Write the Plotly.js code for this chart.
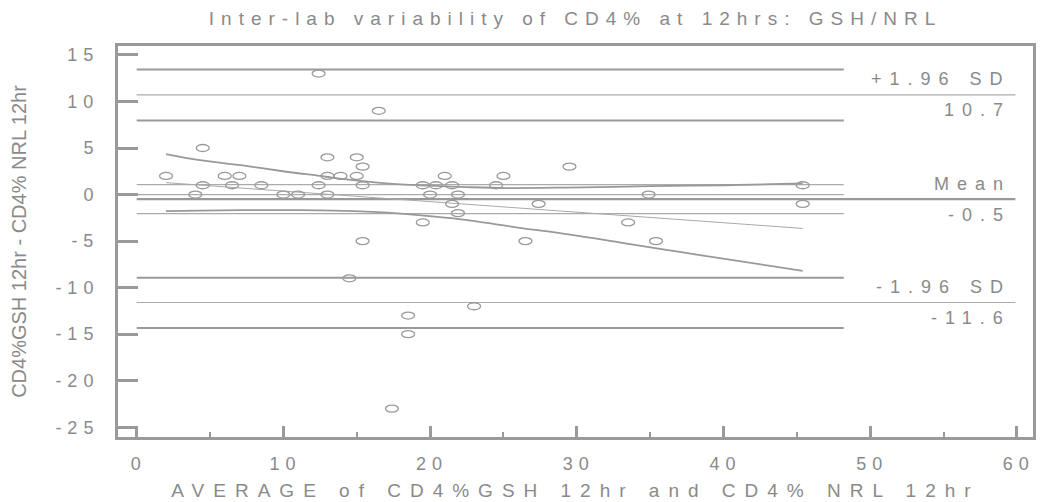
<!DOCTYPE html>
<html><head><meta charset="utf-8">
<script src="https://cdn.plot.ly/plotly-3.0.1.min.js"></script>
<style>
html,body{margin:0;padding:0;background:#fff;}
text{letter-spacing:6px;}
text.gtitle{letter-spacing:7px;}
text.xtitle{letter-spacing:9px;}
text.ytitle{letter-spacing:0px;}
text.annotation-text{letter-spacing:8px;}
</style></head><body>
<div id="chart" style="width:1040px;height:502px;"></div>
<script>
// ---- data ----
const avgX = [2, 4, 4.5, 4.5, 6, 6.5, 7, 8.5, 10, 11, 12.4, 12.4, 13, 13, 13, 13.9, 15, 15, 14.5, 15.4, 15.4, 15.4, 16.5, 17.4, 18.5, 18.5, 19.5, 19.5, 20, 20.4, 21, 21.5, 21.5, 21.9, 21.9, 23, 24.5, 25, 27.4, 26.5, 29.5, 33.5, 34.9, 35.4, 45.4, 45.4];
const diffY = [2, 0, 5, 1, 2, 1, 2, 1, 0, 0, 13, 1, 4, 2, 0, 2, 4, 2, -9, 3, 1, -5, 9, -23, -13, -15, 1, -3, 0, 1, 2, 1, -1, 0, -2, -12, 1, 2, -1, -5, 3, -3, 0, -5, 1, -1];

const regX = [2, 45.4];
const regY = [1.28, -3.64];
const upperBandX = [2, 4.3, 7.1, 10.2, 12.5, 13.4, 17.0, 20, 22.5, 25.2, 29.3, 35.0, 40, 45.4];
const upperBandY = [4.35, 3.7, 3.15, 2.45, 2.0, 1.8, 1.2, 0.95, 0.8, 0.7, 0.75, 0.9, 1.0, 1.2];
const lowerBandX = [2, 4.3, 7.1, 11.0, 13.4, 16.1, 18.0, 21.6, 26.1, 29.3, 32.9, 36.1, 38.4, 45.4];
const lowerBandY = [-1.79, -1.72, -1.68, -1.68, -1.72, -1.86, -2.04, -2.57, -3.57, -4.25, -5.14, -5.95, -6.5, -8.2];

const limitCILevels = [13.43, 7.96, -8.93, -14.33];
const meanCILevels = [1.07, 0, -2.04];
const limitLevels = [10.7, -11.6];
const meanLevel = [-0.5];
const shortLineSpan = [0, 48.2];
const longLineSpan = [0, 59.9];

const labelLevels = [10.7, 10.7, -0.5, -0.5, -11.6, -11.6];
const labelTexts = ['+1.96 SD', '10.7', 'Mean', '-0.5', '-1.96 SD', '-11.6'];
const labelSide = [1, -1, 1, -1, 1, -1];

const xTickVals = [0, 10, 20, 30, 40, 50, 60];
const xTickText = ['0', '10', '20', '30', '40', '50', '60'];
const xMinorVals = [5, 15, 25, 35, 45, 55];
const yTickVals = [-25, -20, -15, -10, -5, 0, 5, 10, 15];
const yTickText = ['-25', '-20', '-15', '-10', '-5', '0', '5', '10', '15'];

const titleText = 'Inter-lab variability of CD4% at 12hrs: GSH/NRL';
const xTitle = 'AVERAGE of CD4%GSH 12hr and CD4% NRL 12hr';
const yTitle = 'CD4%GSH 12hr - CD4% NRL 12hr';

// ---- build ----
const FONT = 'Liberation Sans, Arial, sans-serif';
const TXT = '#8a8a8a';
function hLines(levels, span) {
  const x = [], y = [];
  levels.forEach(v => { x.push(span[0], span[1], null); y.push(v, v, null); });
  return {x, y};
}
const g1 = hLines(limitCILevels, shortLineSpan);
const g2 = hLines(meanCILevels, shortLineSpan);
const g3 = hLines(limitLevels, longLineSpan);
const g4 = hLines(meanLevel, longLineSpan);

const traces = [
  {x: g1.x, y: g1.y, mode: 'lines', line: {color: '#9a9a9a', width: 2}, hoverinfo: 'skip', name: 'CI of limits'},
  {x: g2.x, y: g2.y, mode: 'lines', line: {color: '#ababab', width: 1.2}, hoverinfo: 'skip', name: 'CI of mean'},
  {x: g3.x, y: g3.y, mode: 'lines', line: {color: '#ababab', width: 1.2}, hoverinfo: 'skip', name: 'Limits'},
  {x: g4.x, y: g4.y, mode: 'lines', line: {color: '#999999', width: 2.2}, hoverinfo: 'skip', name: 'Mean'},
  {x: regX, y: regY, mode: 'lines', line: {color: '#aaaaaa', width: 1}, name: 'Regression'},
  {x: upperBandX, y: upperBandY, mode: 'lines', line: {color: '#999999', width: 1.8, shape: 'spline'}, name: 'Upper'},
  {x: lowerBandX, y: lowerBandY, mode: 'lines', line: {color: '#999999', width: 1.8, shape: 'spline'}, name: 'Lower'},
  {x: avgX, y: diffY, mode: 'markers', name: 'points',
   marker: {symbol: 'circle-open', size: 7, color: '#9a9a9a', line: {color: '#9a9a9a', width: 1.3}}}
];

const annotations = labelTexts.map((t, i) => ({
  x: 59.75, y: labelLevels[i], xref: 'x', yref: 'y', text: t, showarrow: false,
  xanchor: 'right', yanchor: 'middle', yshift: 15.5 * labelSide[i],
  font: {family: FONT, size: 18, color: TXT}
}));

const axisCommon = {
  showline: true, linecolor: '#9a9a9a', linewidth: 3, mirror: true,
  showgrid: false, zeroline: false, ticks: 'inside', tickcolor: '#9a9a9a',
  tickfont: {family: FONT, size: 18, color: TXT}, fixedrange: true
};

const layout = {
  width: 1040, height: 502,
  margin: {l: 118, r: 7, t: 45.5, b: 64.8, pad: 0},
  paper_bgcolor: '#ffffff', plot_bgcolor: '#ffffff',
  showlegend: false,
  font: {family: FONT, color: TXT},
  title: {text: titleText, font: {family: FONT, size: 19, color: TXT},
          x: 0.5, xref: 'paper', xanchor: 'center', y: 1 - 18/502, yref: 'container', yanchor: 'middle'},
  xaxis: Object.assign({}, axisCommon, {
    range: [-1.275, 61.1], tickmode: 'array', tickvals: xTickVals, ticktext: xTickText,
    ticklen: 11, tickwidth: 3, ticklabelstandoff: 8,
    minor: {tickmode: 'array', tickvals: xMinorVals, ticks: 'inside', ticklen: 5, tickwidth: 2, tickcolor: '#9a9a9a'},
    title: {text: xTitle, font: {family: FONT, size: 19, color: TXT}, standoff: 12}
  }),
  yaxis: Object.assign({}, axisCommon, {
    range: [-26.05, 15.96], tickmode: 'array', tickvals: yTickVals, ticktext: yTickText,
    ticklen: 20, tickwidth: 3, ticklabelstandoff: 12,
    title: {text: yTitle, font: {family: FONT, size: 20, color: TXT}, standoff: 24}
  }),
  annotations: annotations
};

Plotly.newPlot('chart', traces, layout, {staticPlot: true, displayModeBar: false}).then(() => {
  document.querySelectorAll('.scatterlayer .trace .points path').forEach(p => {
    const t = p.getAttribute('transform') || '';
    p.setAttribute('transform', t + ' scale(1.85,1)');
    p.setAttribute('vector-effect', 'non-scaling-stroke');
  });
  // compensate the trailing letter-spacing on centred x tick labels
  document.querySelectorAll('.xtick text').forEach(t => t.setAttribute('dx', '2'));
});
</script>
</body></html>
